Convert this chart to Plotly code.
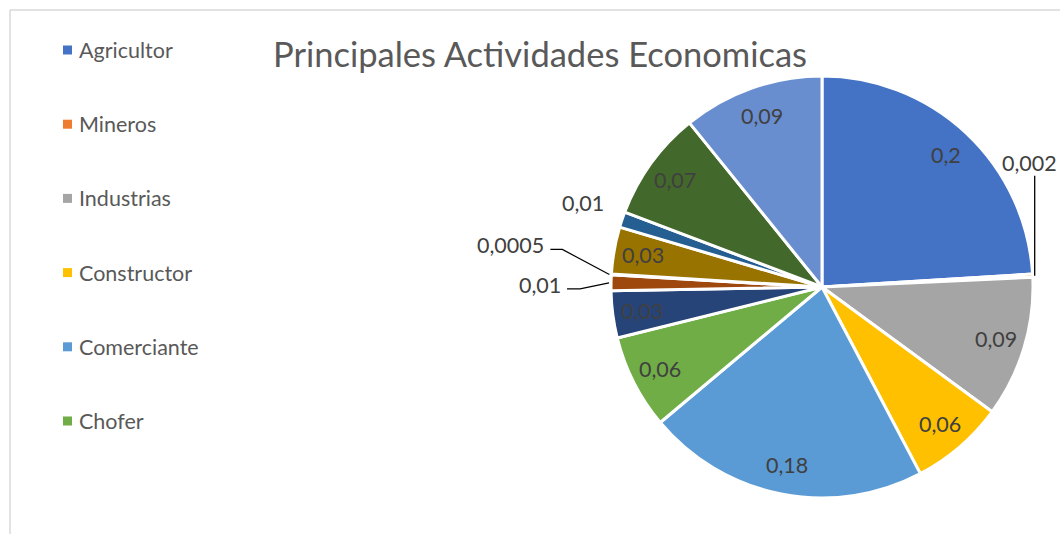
import math
import plotly.graph_objects as go

# Economic activities, clockwise from 12 o'clock
categorias = [
    "Agricultor", "Mineros", "Industrias", "Constructor", "Comerciante", "Chofer",
    "Actividad 7", "Actividad 8", "Actividad 9", "Actividad 10",
    "Actividad 11", "Actividad 12", "Actividad 13",
]
valores = [0.2, 0.002, 0.09, 0.06, 0.18, 0.06, 0.03, 0.01, 0.0005, 0.03, 0.01, 0.07, 0.09]
etiquetas = ["0,2", "0,002", "0,09", "0,06", "0,18", "0,06", "0,03", "0,01",
             "0,0005", "0,03", "0,01", "0,07", "0,09"]
leyenda = ["Agricultor", "Mineros", "Industrias", "Constructor", "Comerciante", "Chofer"]

colores = [
    "#4472C4", "#ED7D31", "#A5A5A5", "#FFC000", "#5B9BD5", "#70AD47",
    "#264478", "#9E480E", "#636363", "#997300", "#255E91", "#43682B", "#698ED0",
]

W, H = 1060, 534
FONT = "Lato, 'Open Sans', sans-serif"
LBL = 21.5

# Pie placement in pixels
cx, cy, R = 822, 287, 211


def px(x):
    return x / W


def py(y):
    return 1 - y / H


fig = go.Figure(
    go.Pie(
        labels=categorias,
        values=valores,
        sort=False,
        direction="clockwise",
        rotation=0,
        textinfo="none",
        hoverinfo="label+value",
        showlegend=False,
        marker=dict(colors=colores, line=dict(color="white", width=3)),
        domain=dict(x=[px(cx - R), px(cx + R)], y=[py(cy + R), py(cy - R)]),
    )
)

annotations = []
shapes = []

# Slices labelled outside the pie
outside = {
    1: "vertical",
    7: "left_low",
    8: "left_high",
    10: "plain",
}

total = sum(valores)
acum = 0.0
for i, v in enumerate(valores):
    mid = (acum + v / 2) / total * 2 * math.pi
    acum += v
    sx, sy = math.sin(mid), -math.cos(mid)
    if i not in outside:
        rr = 0.86 * R
        annotations.append(dict(
            x=px(cx + rr * sx), y=py(cy + rr * sy), xref="paper", yref="paper",
            text=etiquetas[i], showarrow=False,
            font=dict(family=FONT, size=LBL, color="#404040"),
            xanchor="center", yanchor="middle",
        ))
        continue
    ex, ey = cx + R * sx, cy + R * sy
    style = outside[i]
    if style == "vertical":
        tx, ty = ex, ey - 100
        shapes.append(dict(type="line", xref="paper", yref="paper",
                           x0=px(ex + 2), y0=py(ey), x1=px(tx + 2), y1=py(ty),
                           line=dict(color="black", width=1.3)))
        annotations.append(dict(
            x=px(tx - 3), y=py(ty - 13), xref="paper", yref="paper",
            text=etiquetas[i], showarrow=False,
            font=dict(family=FONT, size=LBL, color="#404040"),
            xanchor="center", yanchor="middle"))
    elif style in ("left_low", "left_high"):
        if style == "left_low":
            kx, ky, hx = ex - 31, ey + 6, ex - 44
        else:
            kx, ky, hx = ex - 49, ey - 25, ex - 61
        shapes.append(dict(
            type="path", xref="paper", yref="paper",
            path=f"M {px(ex - 2)} {py(ey)} L {px(kx)} {py(ky)} L {px(hx)} {py(ky)}",
            line=dict(color="black", width=1.2)))
        annotations.append(dict(
            x=px(hx - 4), y=py(ky - 4), xref="paper", yref="paper",
            text=etiquetas[i], showarrow=False,
            font=dict(family=FONT, size=LBL, color="#404040"),
            xanchor="right", yanchor="middle"))
    else:
        annotations.append(dict(
            x=px(ex - 39), y=py(ey - 17), xref="paper", yref="paper",
            text=etiquetas[i], showarrow=False,
            font=dict(family=FONT, size=LBL, color="#404040"),
            xanchor="center", yanchor="middle"))

# Title
annotations.append(dict(
    x=px(271), y=py(53), xref="paper", yref="paper",
    text="Principales Actividades Economicas", showarrow=False,
    font=dict(family=FONT, size=34.5, color="#595959"),
    xanchor="left", yanchor="middle"))

# Legend (left column)
fila0, paso = 50, 74.2
for k, nombre in enumerate(leyenda):
    yc = fila0 + k * paso
    shapes.append(dict(type="rect", xref="paper", yref="paper",
                       x0=px(63), x1=px(72), y0=py(yc - 4.5), y1=py(yc + 4.5),
                       fillcolor=colores[k], line=dict(width=0)))
    annotations.append(dict(
        x=px(77), y=py(yc), xref="paper", yref="paper",
        text=nombre, showarrow=False,
        font=dict(family=FONT, size=21.5, color="#595959"),
        xanchor="left", yanchor="middle"))

# Chart area border (left and top edges)
shapes.append(dict(type="line", xref="paper", yref="paper",
                   x0=px(10), y0=py(10), x1=px(W + 5), y1=py(10),
                   line=dict(color="#D9D9D9", width=1.5)))
shapes.append(dict(type="line", xref="paper", yref="paper",
                   x0=px(10), y0=py(10), x1=px(10), y1=py(H + 5),
                   line=dict(color="#D9D9D9", width=1.5)))

fig.update_layout(
    width=W, height=H,
    margin=dict(l=0, r=0, t=0, b=0),
    paper_bgcolor="white",
    plot_bgcolor="white",
    separators=",.",
    annotations=annotations,
    shapes=shapes,
    showlegend=False,
)

fig.write_html("out.html")
